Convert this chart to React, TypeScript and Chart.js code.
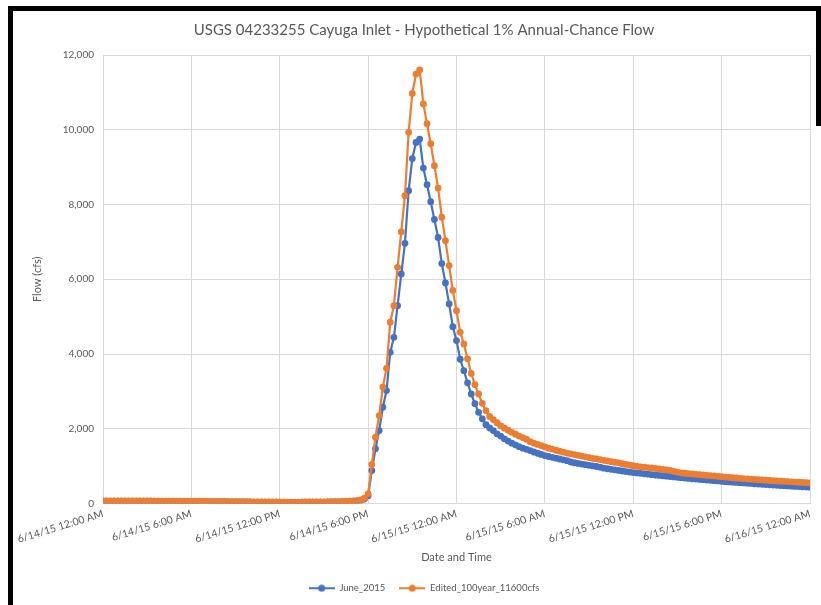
import React, { useEffect, useRef } from "react";
import { Chart, registerables } from "chart.js";

Chart.register(...registerables);

const TITLE = "USGS 04233255 Cayuga Inlet - Hypothetical 1% Annual-Chance Flow";
const SERIES_NAMES = ["June_2015", "Edited_100year_11600cfs"];
const X_AXIS_TITLE = "Date and Time";
const Y_AXIS_TITLE = "Flow (cfs)";
const STEP_HOURS = 0.25; // 15-minute data
const X_TICK_STEP_HOURS = 6;
const X_TICK_LABELS = [
  "6/14/15 12:00 AM",
  "6/14/15 6:00 AM",
  "6/14/15 12:00 PM",
  "6/14/15 6:00 PM",
  "6/15/15 12:00 AM",
  "6/15/15 6:00 AM",
  "6/15/15 12:00 PM",
  "6/15/15 6:00 PM",
  "6/16/15 12:00 AM",
];
const Y_MIN = 0;
const Y_MAX = 12000;
const Y_STEP = 2000;

// Flow (cfs), every 15 minutes from 6/14/15 12:00 AM to 6/16/15 12:00 AM
const june2015 = [
  66, 66, 65, 65, 64, 64, 64, 63, 63, 62, 62, 62,
  61, 61, 60, 60, 59, 59, 58, 58, 57, 57, 56, 56,
  55, 54, 54, 53, 52, 51, 50, 49, 48, 47, 46, 45,
  44, 43, 42, 41, 40, 39, 38, 37, 36, 35, 34, 34,
  33, 33, 32, 32, 32, 32, 33, 34, 35, 36, 37, 38,
  39, 40, 42, 44, 46, 48, 51, 55, 60, 68, 82, 120,
  210, 882, 1462, 1951, 2575, 3021, 4045, 4447, 5294, 6141, 6960, 8370,
  9230, 9660, 9750, 8975, 8530, 8075, 7600, 7120, 6420, 5900, 5340, 4730,
  4360, 3860, 3555, 3230, 2930, 2670, 2440, 2265, 2110, 2020, 1950, 1865,
  1805, 1730, 1670, 1615, 1570, 1520, 1480, 1450, 1415, 1378, 1345, 1312,
  1283, 1258, 1235, 1212, 1190, 1168, 1145, 1110, 1090, 1072, 1055, 1038,
  1022, 1005, 990, 972, 945, 930, 915, 900, 885, 870, 855, 840,
  828, 818, 808, 795, 785, 772, 762, 752, 742, 732, 722, 712,
  700, 690, 680, 671, 662, 653, 645, 637, 628, 620, 612, 604,
  592, 585, 578, 571, 564, 557, 550, 543, 536, 529, 520, 512,
  506, 500, 494, 488, 482, 476, 470, 464, 458, 452, 446, 440,
  435,
];

const edited100yr = [
  72, 72, 71, 71, 70, 70, 70, 69, 69, 68, 68, 68,
  67, 67, 66, 66, 65, 65, 64, 64, 63, 63, 62, 62,
  61, 60, 60, 59, 58, 57, 56, 55, 54, 53, 52, 51,
  50, 49, 48, 47, 46, 45, 44, 43, 42, 41, 40, 40,
  39, 39, 38, 38, 38, 38, 39, 40, 41, 42, 43, 44,
  45, 46, 48, 50, 52, 55, 58, 62, 68, 78, 95, 140,
  260, 1043, 1773, 2353, 3110, 3617, 4850, 5294, 6318, 7270, 8235, 9930,
  10970, 11490, 11600, 10690, 10160, 9625, 9040, 8440, 7660, 7030, 6365, 5700,
  5160, 4580, 4270, 3870, 3480, 3180, 2930, 2680, 2485, 2330, 2245, 2160,
  2075, 2015, 1960, 1905, 1855, 1805, 1765, 1720, 1655, 1615, 1580, 1550,
  1515, 1480, 1455, 1425, 1400, 1375, 1350, 1330, 1310, 1290, 1268, 1248,
  1230, 1210, 1192, 1175, 1155, 1138, 1120, 1104, 1088, 1065, 1045, 1025,
  1010, 995, 982, 970, 960, 950, 938, 925, 912, 898, 884, 860,
  840, 820, 810, 800, 790, 780, 772, 764, 755, 746, 737, 728,
  718, 708, 700, 690, 682, 674, 666, 658, 650, 643, 636, 630,
  623, 616, 610, 604, 598, 592, 586, 580, 574, 568, 562, 556,
  550,
];

const BLUE = "#4472C4";
const ORANGE = "#ED7D31";
const TEXT = "#595959";
const GRID = "#D9D9D9";
const FONT = "Lato";

function legendIcon(color: string): HTMLCanvasElement {
  const c = document.createElement("canvas");
  c.width = 26;
  c.height = 8;
  const ctx = c.getContext("2d")!;
  ctx.strokeStyle = color;
  ctx.lineWidth = 2;
  ctx.beginPath();
  ctx.moveTo(0, 4);
  ctx.lineTo(26, 4);
  ctx.stroke();
  ctx.fillStyle = color;
  ctx.beginPath();
  ctx.arc(13, 4, 3.5, 0, Math.PI * 2);
  ctx.fill();
  return c;
}

const toPoints = (arr: number[]) => arr.map((y, i) => ({ x: i * STEP_HOURS, y }));

export default function App() {
  const ref = useRef<HTMLCanvasElement | null>(null);

  useEffect(() => {
    if (!ref.current) return;
    const icons = [legendIcon(BLUE), legendIcon(ORANGE)];
    const xMax = (X_TICK_LABELS.length - 1) * X_TICK_STEP_HOURS;
    const chart = new Chart(ref.current, {
      type: "line",
      data: {
        datasets: [
          {
            label: SERIES_NAMES[0],
            data: toPoints(june2015),
            borderColor: BLUE,
            backgroundColor: BLUE,
            pointBackgroundColor: BLUE,
            pointBorderWidth: 0,
            pointRadius: 3.4,
            borderWidth: 2.2,
            tension: 0,
            order: 1,
          },
          {
            label: SERIES_NAMES[1],
            data: toPoints(edited100yr),
            borderColor: ORANGE,
            backgroundColor: ORANGE,
            pointBackgroundColor: ORANGE,
            pointBorderWidth: 0,
            pointRadius: 3.4,
            borderWidth: 2.2,
            tension: 0,
            order: 0,
          },
        ],
      },
      options: {
        responsive: false,
        animation: false,
        devicePixelRatio: 1,
        layout: { padding: { left: 0, right: 0, top: 0, bottom: 2 } },
        plugins: {
          title: {
            display: true,
            text: TITLE,
            color: TEXT,
            font: { family: FONT, size: 15, weight: "normal" },
            padding: { top: 21.5, bottom: 15.5 },
          },
          legend: {
            position: "bottom",
            labels: {
              usePointStyle: true,
              pointStyleWidth: 26,
              boxHeight: 8,
              padding: 14,
              color: TEXT,
              font: { family: FONT, size: 9.5 },
              generateLabels: (c: any) => {
                const items = (Chart.defaults.plugins.legend.labels as any).generateLabels(c);
                return items.map((it: any) => ({ ...it, pointStyle: icons[it.datasetIndex] }));
              },
              sort: (a: any, b: any) => a.datasetIndex - b.datasetIndex,
            },
          },
          tooltip: { enabled: false },
        },
        scales: {
          x: {
            type: "linear",
            min: 0,
            max: xMax,
            ticks: {
              stepSize: X_TICK_STEP_HOURS,
              autoSkip: false,
              minRotation: 17,
              maxRotation: 17,
              padding: 4,
              color: TEXT,
              font: { family: FONT, size: 10.5 },
              callback: (v: any) => X_TICK_LABELS[Math.round(Number(v) / X_TICK_STEP_HOURS)] ?? "",
            },
            grid: { color: GRID, drawTicks: false },
            border: { color: GRID },
            title: {
              display: true,
              text: X_AXIS_TITLE,
              color: TEXT,
              font: { family: FONT, size: 11 },
              padding: { top: 0, bottom: 5.5 },
            },
            afterFit: (s: any) => {
              s.height = 66;
            },
          },
          y: {
            min: Y_MIN,
            max: Y_MAX,
            ticks: {
              stepSize: Y_STEP,
              padding: 9,
              color: TEXT,
              font: { family: FONT, size: 10 },
              callback: (v: any) => Number(v).toLocaleString("en-US"),
            },
            grid: { color: GRID, drawTicks: false },
            border: { color: GRID },
            title: {
              display: true,
              text: Y_AXIS_TITLE,
              color: TEXT,
              font: { family: FONT, size: 11 },
              padding: { top: 30.4, bottom: 0 },
            },
            afterFit: (s: any) => {
              s.width = 103;
            },
          },
          // empty spacer on the right so the plot ends where the reference's does
          spacer: {
            type: "linear",
            position: "right",
            min: Y_MIN,
            max: Y_MAX,
            display: true,
            grid: { display: false, drawTicks: false },
            border: { display: false },
            ticks: { display: false },
            afterFit: (s: any) => {
              s.width = 38;
            },
          },
        },
      },
    } as any);
    return () => chart.destroy();
  }, []);

  return (
    <div
      style={{
        position: "fixed",
        left: 0,
        top: 0,
        width: 821,
        height: 605,
        overflow: "hidden",
        background: "#fff",
      }}
    >
      <canvas ref={ref} width={848} height={605} style={{ display: "block", width: 848, height: 605 }} />
      <div style={{ position: "absolute", left: 8, top: 6, width: 5, height: 599, background: "#000" }} />
      <div style={{ position: "absolute", left: 8, top: 6, width: 813, height: 5, background: "#000" }} />
      <div style={{ position: "absolute", left: 816, top: 6, width: 5, height: 120, background: "#000" }} />
    </div>
  );
}
